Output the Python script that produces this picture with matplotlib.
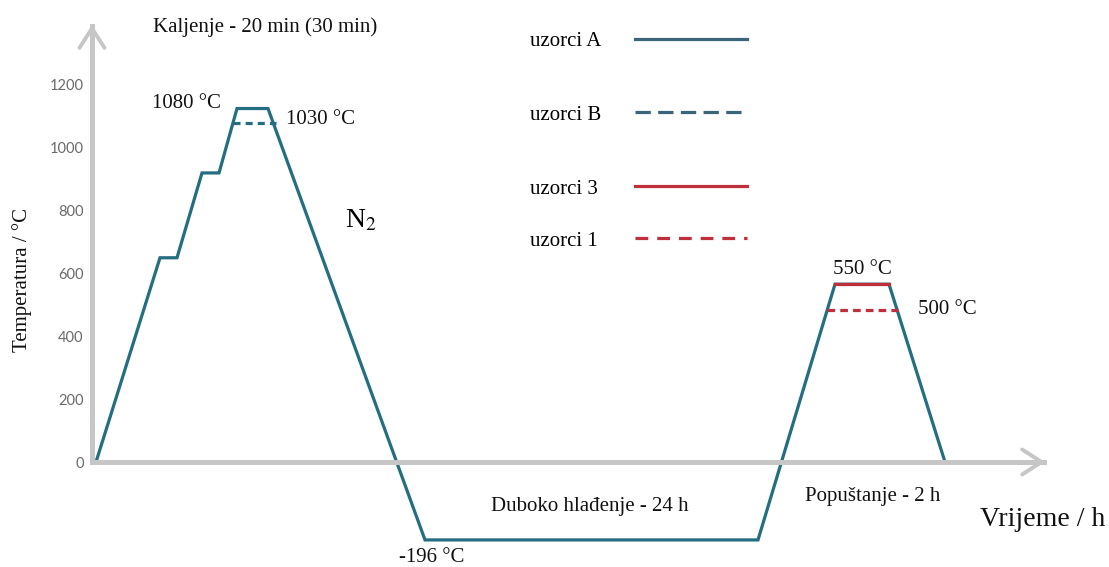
import numpy as np
import matplotlib.pyplot as plt

# heat treatment profile (time in arbitrary units, temperature in °C as drawn)
time_a = [4, 68, 85, 110, 127, 145, 176, 333, 666, 743, 797, 853]
temp_a = [0, 650, 650, 920, 920, 1125, 1125, -248, -248, 566, 566, 0]

time_b = [141, 184]
temp_b = [1080, 1080]

time_3 = [743, 797]
temp_3 = [566, 566]

time_1 = [735, 806]
temp_1 = [484, 484]

yticks = [0, 200, 400, 600, 800, 1000, 1200]

legend_labels = ['uzorci A', 'uzorci B', 'uzorci 3', 'uzorci 1']

TEAL = '#236e80'
RED = '#c0303c'
GRAY = '#c6c6c6'
SERIF = ['Liberation Serif', 'DejaVu Serif']

fig = plt.figure(figsize=(11.09, 5.67), dpi=100)
ax = fig.add_axes([0, 0, 1, 1])
px = 0.3142  # pixels per °C
y0 = 462
ax.set_xlim(-92, 1109 - 92)
ax.set_ylim(-(567 - y0) / px, y0 / px)

for s in ['top', 'right']:
    ax.spines[s].set_visible(False)
ax.spines['left'].set_position(('data', 0))
ax.spines['bottom'].set_position(('data', 0))
ax.spines['left'].set_bounds(0, (y0 - 26) / px)
ax.spines['bottom'].set_bounds(0, 952)
for s in ['left', 'bottom']:
    ax.spines[s].set_color(GRAY)
    ax.spines[s].set_linewidth(3.6)
ax.set_xticks([])
ax.set_yticks(yticks)
ax.tick_params(axis='y', length=0, pad=6, labelsize=10.5, labelcolor='#6a6a6a')
for lab in ax.get_yticklabels():
    lab.set_family('Lato')

# arrow heads
ax.annotate('', xy=(0, (y0 - 22) / px), xytext=(0, (y0 - 50) / px),
            arrowprops=dict(arrowstyle='->,head_length=1.4,head_width=0.9',
                            color=GRAY, lw=2.8))
ax.annotate('', xy=(956, 0), xytext=(930, 0),
            arrowprops=dict(arrowstyle='->,head_length=1.4,head_width=0.9',
                            color=GRAY, lw=2.8))

ax.plot(time_a, temp_a, color=TEAL, lw=2.3, solid_joinstyle='miter')
ax.plot(time_b, temp_b, color=TEAL, lw=2.3, ls=(0, (2.2, 1.6)))
ax.plot(time_3, temp_3, color=RED, lw=2.3)
ax.plot(time_1, temp_1, color=RED, lw=2.3, ls=(0, (2.4, 1.6)))

# legend drawn by hand, as in the picture
leg_y = [(y0 - 39) / px, (y0 - 112) / px, (y0 - 186) / px, (y0 - 238) / px]
leg_c = ['#3b6579', '#3b6579', RED, RED]
leg_ls = ['-', (0, (4.8, 2.3)), '-', (0, (4.0, 2.8))]
for lab, yy, c, ls in zip(legend_labels, leg_y, leg_c, leg_ls):
    ax.text(438, yy - 3 / px, lab, family=SERIF, fontsize=15, va='center', ha='left')
    ax.plot([543, 655], [yy, yy], color=c, lw=2.3, ls=ls)

txt = dict(family=SERIF, fontsize=15, color='#111111')
ax.text(173, (y0 - 27) / px, 'Kaljenje - 20 min (30 min)', ha='center', va='center', **txt)
ax.text(94, (y0 - 104) / px, '1080 °C', ha='center', va='center', **txt)
ax.text(229, (y0 - 120) / px, '1030 °C', ha='center', va='center', **txt)
ax.text(269, (y0 - 221) / px, 'N$_2$', ha='center', va='center',
        family=SERIF, fontsize=20, math_fontfamily='stix')
ax.text(-70, (y0 - 280) / px, 'Temperatura / °C', rotation=90, ha='center', va='center', **txt)
ax.text(498, (y0 - 507) / px, 'Duboko hlađenje - 24 h', ha='center', va='center', **txt)
ax.text(340, (y0 - 558) / px, '-196 °C', ha='center', va='center', **txt)
ax.text(770, (y0 - 270) / px, '550 °C', ha='center', va='center', **txt)
ax.text(855, (y0 - 309) / px, '500 °C', ha='center', va='center', **txt)
ax.text(781, (y0 - 496) / px, 'Popuštanje - 2 h', ha='center', va='center', **txt)
ax.text(951, (y0 - 519) / px, 'Vrijeme / h', ha='center', va='center',
        family=SERIF, fontsize=20, color='#111111')

fig.savefig('out.png', dpi=100)
